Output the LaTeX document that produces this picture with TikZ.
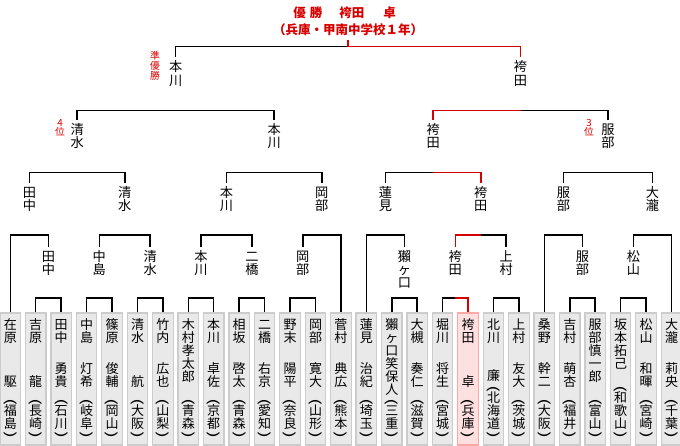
\documentclass[tikz,border=0pt]{standalone}
\usepackage{fontspec}
\setmainfont{Noto Sans CJK JP}
\usepackage{graphicx}
\usetikzlibrary{positioning}

\definecolor{winred}{RGB}{215,0,0}

% vertical text: one character per line
\newcommand\ch[1]{\hbox to 1.05em{\hss\vrule height .8em depth .2em width 0pt\smash{#1}\hss}}
\def\vsend{\relax}
\def\vsA#1{\ifx#1\vsend\else\ch{#1}\expandafter\vsA\fi}
\newcommand\vs[1]{\vbox{\offinterlineskip\vsA#1\vsend}}
\newcommand\vparen[1]{\hbox to 1.05em{\hss\vrule height .45em depth .1em width 0pt\raisebox{.45em}[0pt][0pt]{\rotatebox{-90}{\scalebox{1.6}[1]{#1}}}\hss}}
% name, given name, prefecture
\newcommand\cell[3]{\setbox0=\vbox{\offinterlineskip\vparen{(}\vs{#3}\vparen{)}}%
  \ifdim\ht0<46pt \setbox0=\vbox to 46pt{\vss\box0}\fi
  \vbox to 118pt{\offinterlineskip\vs{#1}\vss\vs{#2}\vskip 2pt\box0}}

\begin{document}
\begin{tikzpicture}[x=1pt,y=-1pt,line width=1.5pt,
  win/.style={draw=winred},
  pbox/.style={draw=gray!40,fill=gray!17,line width=1.2pt,minimum width=20.5pt,minimum height=132pt,inner sep=0pt,font=\fontsize{13}{13}\selectfont},
  lbl/.style={anchor=north,inner xsep=0pt,inner ysep=3pt,font=\fontsize{13.2}{13}\selectfont},
  note/.style={anchor=north,inner sep=0pt,text=winred,font=\fontsize{9.8}{10}\selectfont}]
\useasboundingbox (0,0) rectangle (680,446);

\node[pbox] (p0) at (10.3,379) {\cell{在原}{駆}{福島}};
\node[pbox] (p1) at (35.7,379) {\cell{吉原}{龍}{長崎}};
\node[pbox] (p2) at (61.2,379) {\cell{田中}{勇貴}{石川}};
\node[pbox] (p3) at (86.6,379) {\cell{中島}{灯希}{岐阜}};
\node[pbox] (p4) at (112.0,379) {\cell{篠原}{俊輔}{岡山}};
\node[pbox] (p5) at (137.5,379) {\cell{清水}{航}{大阪}};
\node[pbox] (p6) at (162.9,379) {\cell{竹内}{広也}{山梨}};
\node[pbox] (p7) at (188.3,379) {\cell{木村孝太郎}{}{青森}};
\node[pbox] (p8) at (213.7,379) {\cell{本川}{卓佐}{京都}};
\node[pbox] (p9) at (239.2,379) {\cell{相坂}{啓太}{青森}};
\node[pbox] (p10) at (264.6,379) {\cell{二橋}{右京}{愛知}};
\node[pbox] (p11) at (290.0,379) {\cell{野末}{陽平}{奈良}};
\node[pbox] (p12) at (315.5,379) {\cell{岡部}{寛大}{山形}};
\node[pbox] (p13) at (340.9,379) {\cell{菅村}{典広}{熊本}};
\node[pbox] (p14) at (366.3,379) {\cell{蓮見}{治紀}{埼玉}};
\node[pbox] (p15) at (391.8,379) {\cell{獺ヶ口笑保人}{}{三重}};
\node[pbox] (p16) at (417.2,379) {\cell{大槻}{奏仁}{滋賀}};
\node[pbox] (p17) at (442.6,379) {\cell{堀川}{将生}{宮城}};
\node[pbox,fill=red!12,draw=red!35] (p18) at (468.0,379) {\cell{袴田}{卓}{兵庫}};
\node[pbox] (p19) at (493.5,379) {\cell{北川}{廉}{北海道}};
\node[pbox] (p20) at (518.9,379) {\cell{上村}{友大}{茨城}};
\node[pbox] (p21) at (544.3,379) {\cell{桑野}{幹二}{大阪}};
\node[pbox] (p22) at (569.8,379) {\cell{吉村}{萌杏}{福井}};
\node[pbox] (p23) at (595.2,379) {\cell{服部慎一郎}{}{富山}};
\node[pbox] (p24) at (620.6,379) {\cell{坂本拓己}{}{和歌山}};
\node[pbox] (p25) at (646.1,379) {\cell{松山}{和暉}{宮崎}};
\node[pbox] (p26) at (671.5,379) {\cell{大瀧}{莉央}{千葉}};

%
\node[lbl] (a1) at (48.45,247) {\vs{田中}};
\node[lbl] (a2) at (99.3,247) {\vs{中島}};
\node[lbl] (a3) at (150.2,247) {\vs{清水}};
\node[lbl] (a4) at (201,247) {\vs{本川}};
\node[lbl] (a5) at (251.9,247) {\vs{二橋}};
\node[lbl] (a6) at (302.75,247) {\vs{岡部}};
\node[lbl] (a7) at (404.5,247) {\vs{獺ヶ口}};
\node[lbl] (a8) at (455.3,247) {\vs{袴田}};
\node[lbl] (a9) at (506.2,247) {\vs{上村}};
\node[lbl] (a10) at (582.5,247) {\vs{服部}};
\node[lbl] (a11) at (633.35,247) {\vs{松山}};

\node[lbl] (b1) at (29.4,183) {\vs{田中}};
\node[lbl] (b2) at (124.75,183) {\vs{清水}};
\node[lbl] (b3) at (226.45,183) {\vs{本川}};
\node[lbl] (b4) at (321.8,183) {\vs{岡部}};
\node[lbl] (b5) at (385.4,183) {\vs{蓮見}};
\node[lbl] (b6) at (480.75,183) {\vs{袴田}};
\node[lbl] (b7) at (563.4,183) {\vs{服部}};
\node[lbl] (b8) at (652.4,183) {\vs{大瀧}};

\node[lbl] (c1) at (77.1,120) {\vs{清水}};
\node[lbl] (c2) at (274.1,120) {\vs{本川}};
\node[lbl] (c3) at (433.1,120) {\vs{袴田}};
\node[lbl] (c4) at (607.9,120) {\vs{服部}};

\node[lbl] (d1) at (175.6,57.5) {\vs{本川}};
\node[lbl] (d2) at (520.5,57.5) {\vs{袴田}};

\node[anchor=south,align=center,inner ysep=3pt,text=winred,font=\bfseries\fontsize{12.5}{17}\selectfont] (champ) at (348,40)
  {優\hspace{4pt}勝\hspace{17pt}袴田\hspace{19pt}卓\hspace*{7pt}\\（兵庫・甲南中学校１年）};

\node[note] (jun) at (155,51) {\vs{準優勝}};
\node[note] (fourth) at (60,117.5) {\vs{4位}};
\node[note] (third) at (589,117.5) {\vs{3位}};

% first round
\draw (p1.north) -- (p1.north |- 0,298) -| (p2.north);
\draw (p3.north) -- (p3.north |- 0,298) -| (p4.north);
\draw (p5.north) -- (p5.north |- 0,298) -| (p6.north);
\draw (p7.north) -- (p7.north |- 0,298) -| (p8.north);
\draw (p9.north) -- (p9.north |- 0,298) -| (p10.north);
\draw (p11.north) -- (p11.north |- 0,298) -| (p12.north);
\draw (p15.north) -- (p15.north |- 0,298) -| (p16.north);
\draw (p17.north) -- (p17.north |- 0,298) -| (p18.north);
\draw (p19.north) -- (p19.north |- 0,298) -| (p20.north);
\draw (p22.north) -- (p22.north |- 0,298) -| (p23.north);
\draw (p24.north) -- (p24.north |- 0,298) -| (p25.north);

% second round
\draw (p0.north) -- (p0.north |- 0,235) -| (a1.north);
\draw (a2.north) -- (a2.north |- 0,235) -| (a3.north);
\draw (a4.north) -- (a4.north |- 0,235) -| (a5.north);
\draw (a6.north) -- (a6.north |- 0,235) -| (p13.north);
\draw (p14.north) -- (p14.north |- 0,235) -| (a7.north);
\draw (a8.north) -- (a8.north |- 0,235) -| (a9.north);
\draw (p21.north) -- (p21.north |- 0,235) -| (a10.north);
\draw (a11.north) -- (a11.north |- 0,235) -| (p26.north);

% third round
\draw (b1.north) -- (b1.north |- 0,172.3) -| (b2.north);
\draw (b3.north) -- (b3.north |- 0,172.3) -| (b4.north);
\draw (b5.north) -- (b5.north |- 0,172.3) -| (b6.north);
\draw (b7.north) -- (b7.north |- 0,172.3) -| (b8.north);

% semifinals, final
\draw (c1.north) -- (c1.north |- 0,110.7) -| (c2.north);
\draw (c3.north) -- (c3.north |- 0,110.7) -| (c4.north);
\draw (d1.north) -- (d1.north |- 0,46.7) -| (d2.north);

% winner's path
\draw[win] (a8.south |- 0,298) -| (p18.north);
\draw[win] (a8.north) -- (a8.north |- 0,235) -- (b6.north |- 0,235);
\draw[win] (c3.south |- 0,172.3) -| (b6.north);
\draw[win] (c3.north) -- (c3.north |- 0,110.7) -- (d2.north |- 0,110.7);
\draw[win] (champ.south) -- (champ.south |- 0,46.7) -| (d2.north);
\end{tikzpicture}
\end{document}
